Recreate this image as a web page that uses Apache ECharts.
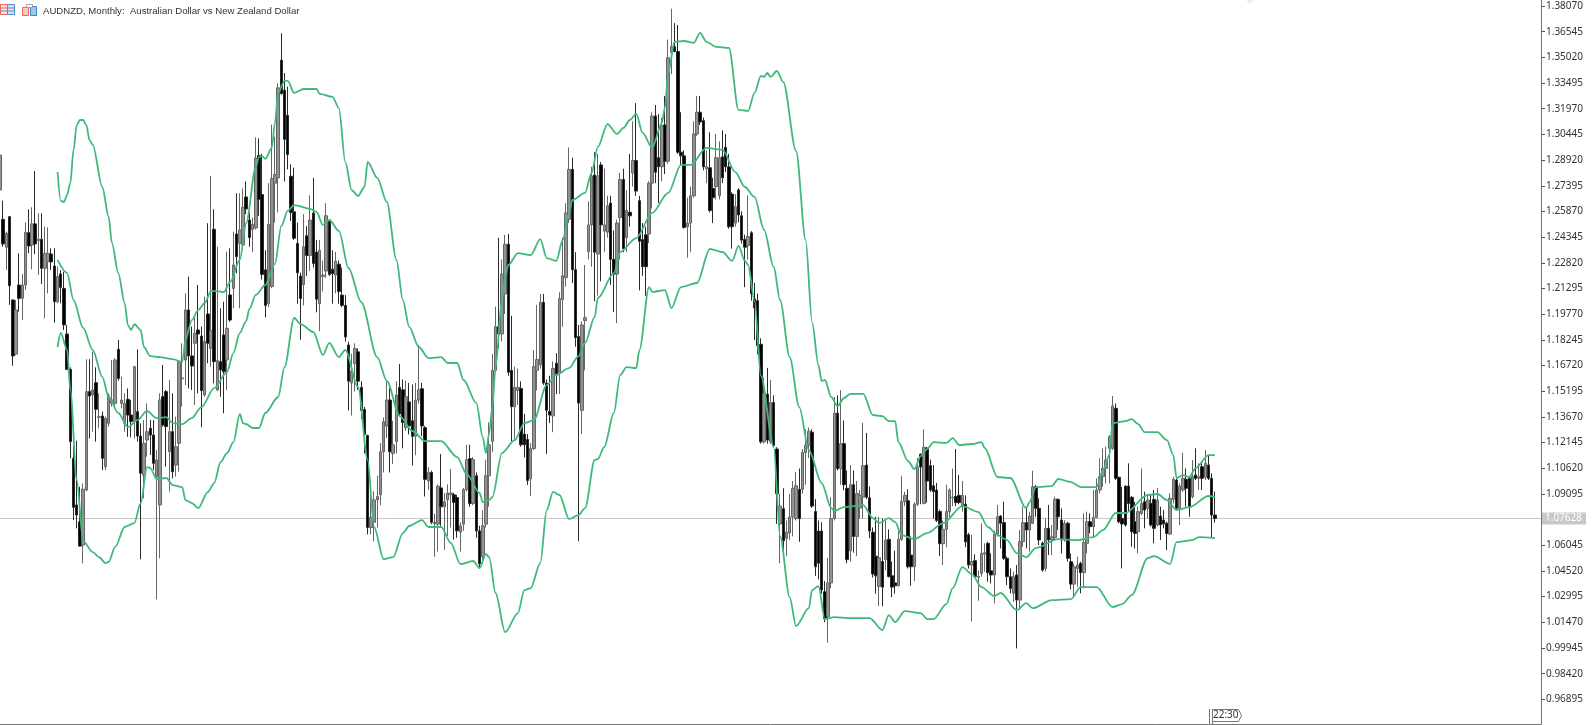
<!DOCTYPE html>
<html><head><meta charset="utf-8">
<style>html,body{margin:0;padding:0;background:#fff;overflow:hidden}#c{width:1592px;height:725px}</style>
<script src="https://cdn.jsdelivr.net/npm/echarts@6/dist/echarts.min.js"></script>
</head><body><div id="c"></div>
<script>
const titleText = 'AUDNZD, Monthly:  Australian Dollar vs New Zealand Dollar';
const tickLabels = ['1.38070','1.36545','1.35020','1.33495','1.31970','1.30445','1.28920','1.27395','1.25870','1.24345','1.22820','1.21295','1.19770','1.18245','1.16720','1.15195','1.13670','1.12145','1.10620','1.09095','1.06045','1.04520','1.02995','1.01470','0.99945','0.98420','0.96895'];
const lastPrice = 1.07628;
const priceUnit = 10000;
// rows: open, close, low, high (in 1/10000)
const candlesA = [[12714,12922,12625,13053],[12540,12394,12378,12651],[12374,12457,12239,12467],[12556,12146,12032,12560],[12061,11729,11671,12065],[11740,12002,11734,12061],[12150,12071,11992,12338],[12071,12150,11942,12216],[12150,12463,12121,12521],[12461,12382,12338,12600],[12388,12513,12243,12612],[12513,12394,12334,12827],[12414,12422,12210,12576],[12422,12249,12156,12576],[12249,12338,11952,12497],[12289,12338,12101,12493],[12334,12287,12239,12368],[12263,12051,11927,12368],[12051,12200,12041,12259],[12216,12136,12041,12239],[12130,11913,11883,12229],[11859,11649,11645,11913],[11649,11220,11121,11661],[11121,10830,10754,11194],[10844,10784,10705,11226],[10744,10600,10596,10952],[10606,10937,10497,10972],[10933,11517,10925,11709],[11517,11491,11239,11709],[11497,11527,11279,11754],[11570,11412,11220,11661],[11364,11368,11299,11507],[11372,11121,11051,11398],[11071,11358,11051,11368],[11329,11493,11309,11507],[11447,11467,11428,11705],[11447,11705,11428,11715],[11768,11596,11582,11824],[11447,11467,11418,11606],[11329,11447,11279,11507],[11471,11378,11249,11536],[11378,11339,11245,11467],[11339,11665,11239,11670],[11398,11253,11220,11768],[11253,11032,10521,11329],[11022,11210,10883,11348],[11230,11279,11131,11447],[11299,11259,11141,11348],[11259,11091,11051,11348],[11012,11111,10283,11170],[10844,11467,10527,11507],[11487,11319,11309,11675],[11517,11309,11071,11527],[11160,11279,10923,11586],[11279,11041,11002,11507],[11081,11190,11012,11368],[11210,11695,11041,11705],[11594,11598,11428,11804],[11705,12002,11556,12101],[12002,11729,11536,12200],[11729,11669,11527,11903],[11804,11863,11438,11972],[11883,11859,11507,12150],[11847,11523,11305,11903],[11497,11814,11487,12081],[11978,11804,11685,12517],[11774,11879,11665,12798],[12481,11695,11566,12600],[11527,11701,11520,12378],[11695,11645,11487,12012],[11853,11635,11388,12051],[11705,11893,11527,12348],[12091,11942,11932,12368],[12130,12269,12012,12467],[12453,12319,12220,12695],[12398,12477,12012,12695],[12388,12612,12378,12724]];
const candlesB = [[12673,12602,12571,12765],[12536,12432,12377,12581],[12479,12510,12346,12550],[12489,12904,12479,13027],[12919,12659,12561,13021],[12687,12213,12182,12929],[12240,12029,11957,12356],[12039,12510,12019,12755],[12141,12782,12131,13103],[12755,12806,12520,13031],[12786,13321,12581,13348],[13485,13287,13280,13645],[13307,13015,12765,13409],[13158,12925,12837,13328],[12796,12581,12530,12867],[12585,12428,12418,12847],[12397,12223,12039,12520],[12203,12070,11825,12223],[12152,12377,12029,12571],[12442,12326,12203,12499],[12326,12536,12233,12683],[12577,12278,12254,12786],[12346,12066,11988,12418],[12039,12356,11876,12418],[12201,12209,12111,12295],[12233,12561,12193,12636],[12530,12213,12203,12540],[12244,12217,12039,12356],[12209,12291,12101,12346],[12274,12111,12039,12295],[12090,12029,12019,12254],[12029,11841,11814,12090],[11794,11579,11405,11814],[11569,11640,11375,11743],[11685,11773,11518,11804],[11753,11579,11528,11773],[11542,11405,11354,11579],[11411,11262,11150,11426],[11256,10710,10669,11262],[10710,10771,10669,10935],[10741,10874,10628,10925],[10874,10894,10710,11017],[10904,11160,10843,11211],[11160,11338,11037,11364],[11313,11467,11242,11579],[11467,11160,11037,11538],[11150,11201,11088,11344],[11221,11497,11150,11579],[11542,11385,11375,11681],[11528,11334,11180,11589],[11303,11487,11283,11583],[11456,11313,11262,11569],[11344,11252,11078,11559],[11252,11467,11139,11569],[11467,11528,11446,11794],[11534,11313,11252,11569],[11303,10996,10894,11313],[10986,11037,10935,11068],[11037,10741,10730,11047],[10733,10741,10536,10792],[10730,10955,10567,10966],[10945,10833,10720,11146],[10833,10863,10577,10915],[10874,10915,10659,10966],[10904,10915,10710,11058],[10904,10859,10638,10915],[10888,10690,10649,10904],[10683,10720,10567,10741],[10730,10935,10690,10945],[10935,11113,10925,11201],[11119,10853,10833,11201],[10853,11113,10843,11129],[11017,10690,10649,11037],[10690,10495,10475,10720],[10536,10720,10495,10812],[10730,11017,10710,11113],[11017,11201,10833,11334]];
const candlesC = [[11222,11643,11157,11740],[11643,11902,11632,12021],[11902,11859,11773,12431],[11859,12215,11816,12302],[12097,12392,11978,12448],[12392,11632,11611,12453],[11643,11427,11222,11967],[11427,11542,11233,11665],[11524,11542,11438,11654],[11535,11201,11190,11578],[11265,11201,11125,11384],[11233,10989,10963,11265],[10999,11179,10898,11211],[11179,11665,11170,11762],[11643,11708,11524,12032],[11676,12047,11654,12097],[12047,11568,11557,12097],[11568,11406,11147,11589],[11399,11378,11330,11611],[11373,11654,11276,11697],[11686,11622,11503,11745],[11632,12069,11503,12107],[12064,12205,11902,12431],[12194,12578,12140,12636],[12539,12837,12518,12967],[12837,12241,12161,12906],[12241,11838,11784,12345],[11844,11449,10628,11913],[11406,11913,11265,11935],[11939,11956,11643,12269],[12349,12507,12302,12647],[12507,12798,12259,12852],[12803,12345,12053,12939],[12334,12798,12086,12928],[12863,12507,12172,12880],[12470,12507,12345,12841],[12464,12621,12431,12680],[12636,12302,12151,12680],[12302,12215,11989,12474],[12215,12518,11924,12539],[12550,12777,12302,12816],[12777,12366,12345,12841],[12431,12593,12345,12712],[12582,12561,12496,12928],[12816,12889,12734,13122],[12889,12708,12680,13230],[12651,12410,12118,12680],[12420,12259,12205,12518],[12448,12259,12086,12496],[12453,12755,12399,12766],[12755,13154,12604,13176],[13154,12820,12755,13219],[12906,12852,12636,13165],[12852,13096,12766,13144],[13101,12885,12809,13273],[12885,13500,12870,13608],[13532,13565,13403,13791],[13565,13537,13532,13705],[13537,12939,12928,13694],[12939,12917,12863,13176],[12917,12492,12485,12949],[12496,12518,12312,12669],[12518,12680,12345,12734],[12680,13047,12669,13122],[13047,13176,13036,13273],[13176,13118,13101,13273],[13126,12852,12831,13144],[12841,12852,12755,12949],[12846,12593,12582,13057],[12723,12669,12518,12787],[12734,12906,12658,13047],[12680,12906,12658,13003],[12911,12787,12755,13068],[12967,12852,12820,13047],[12852,12496,12485,12928],[12690,12496,12366,12701],[12518,12615,12496,12690]];
const candlesD = [[12714,12566,12523,12725],[12561,12417,12396,12587],[12421,12375,12137,12449],[12385,12438,12301,12682],[12460,12099,12057,12470],[12067,12014,11823,12163],[12057,11791,11738,12099],[11798,11219,11208,11834],[11219,11505,11208,11601],[11501,11229,11208,11658],[11219,11452,11208,11586],[11452,11198,11187,11495],[11176,10911,10731,11187],[10731,10837,10498,10911],[10822,10631,10540,10943],[10646,10682,10540,10752],[10678,10773,10636,10911],[10773,10943,10657,10986],[10763,10958,10752,11039],[10937,10763,10625,11060],[10937,11155,10911,11176],[11155,11198,10964,11293],[11198,11282,11123,11304],[11276,10837,10826,11293],[10805,10477,10423,10879],[10689,10498,10402,10752],[10689,10339,10317,10742],[10328,10169,10148,10392],[10180,10381,10025,10530],[10381,10763,10349,10890],[10763,11389,10752,11484],[11389,11060,11049,11495],[11060,11208,10964,11526],[11208,10964,10932,11346],[10943,10519,10498,11049],[10572,10964,10508,11081],[10964,10657,10561,11049],[10657,10911,10540,10986],[10826,10901,10763,10932],[10890,11077,10763,11331],[11081,10890,10879,11272],[10886,10689,10646,10954],[10682,10434,10413,10710],[10540,10423,10317,10773],[10360,10530,10243,10773],[10508,10356,10243,10763],[10519,10636,10455,10752],[10640,10419,10413,10699],[10423,10356,10296,10508],[10381,10364,10317,10572],[10364,10640,10360,10689],[10640,10865,10631,11017],[10865,10901,10837,10922],[10869,10477,10466,10937],[10546,10477,10364,10657],[10477,10848,10392,10860],[10848,11070,10837,11123],[11145,11070,10848,11150],[10852,11187,10848,11293],[11181,10986,10858,11187],[11077,10932,10922,11113],[10958,10922,10763,11081],[10932,10752,10742,10975],[10805,10614,10540,10816],[10614,10699,10487,10752],[10699,10805,10593,10964],[10805,10932,10763,10943],[10886,10890,10837,11060],[10894,10858,10837,11176],[10901,10858,10848,11022],[10837,10901,10805,10986],[10848,10625,10593,10901],[10667,10487,10466,10678],[10487,10508,10152,10667],[10513,10419,10413,10551],[10415,10419,10275,10455]];
const candlesE = [[10438,10556,10418,10735],[10552,10560,10448,10616],[10616,10442,10388,10625],[10453,10428,10378,10556],[10428,10671,10259,10691],[10671,10774,10655,10844],[10778,10735,10586,10784],[10739,10527,10517,10863],[10527,10418,10368,10537],[10418,10348,10319,10467],[10319,10418,10269,10448],[10428,10279,9992,10487],[10279,10626,10220,10695],[10626,10739,10596,10834],[10739,10695,10586,10834],[10695,10778,10566,10804],[10735,10952,10730,11047],[10952,10824,10774,10962],[10824,10636,10606,10883],[10616,10457,10448,10626],[10467,10705,10448,10764],[10705,10636,10546,10844],[10636,10655,10546,10725],[10651,10877,10636,10893],[10877,10774,10695,10883],[10754,10636,10556,10824],[10636,10735,10626,10754],[10735,10527,10507,10744],[10507,10374,10343,10556],[10374,10477,10299,10497],[10467,10487,10358,10537],[10497,10442,10319,10507],[10442,10620,10348,10794],[10616,10744,10556,10804],[10744,10715,10675,10794],[10715,10770,10655,10933],[10770,10933,10764,11002],[10933,11012,10913,11121],[11012,11061,10952,11180],[11061,11111,10972,11190],[11180,11249,10972,11259],[11180,11432,11170,11491],[11418,11002,10992,11447],[11008,10744,10735,11012],[10764,10731,10467,10952],[10956,10725,10715,10960],[10956,10853,10804,11091],[10889,10685,10596,10897],[10744,10675,10586,10863],[10685,10804,10556,10834],[10794,10853,10784,11061],[10863,10814,10705,10923],[10824,10873,10764,10903],[10853,10725,10715,10903],[10877,10705,10616,10933],[10725,10873,10715,10943],[10778,10725,10636,10834],[10754,10731,10705,10814],[10735,10675,10576,10744],[10671,10883,10665,10913],[10877,10996,10853,11012],[10992,10824,10814,11002],[10824,10956,10725,10972],[10933,11002,10923,11154],[10996,10943,10834,11061],[11002,10830,10774,11010],[10893,11012,10883,11111],[11022,11002,10992,11180],[11002,11012,10933,11091],[11071,11002,10933,11101],[11008,11091,10992,11170],[11081,11002,10992,11140],[11002,10784,10651,11032],[10784,10763,10739,10923]];
// Bollinger bands: [bar number, value in 1/10000], as read at the visible bends
const bandUpper = [[18,12821],[19,12650],[20,12643],[21,12685],[22,12756],[23,12952],[24,13100],[25,13130],[26,13130],[27,13100],[28,13011],[29,12982],[32,12732],[34,12554],[35,12400],[37,12221],[39,12043],[40,11912],[41,11883],[42,11918],[44,11883],[45,11782],[47,11728],[50,11722],[54,11710],[57,11693],[58,11823],[60,11942],[62,12002],[64,12043],[66,12114],[68,12114],[70,12108],[72,12168],[75,12299],[77,12518],[80,12851],[81,12910],[82,12916],[83,12899],[85,12964],[86,13112],[87,13291],[89,13362],[90,13362],[92,13291],[95,13314],[99,13314],[100,13285],[104,13267],[106,13201],[108,12881],[110,12714],[112,12679],[114,12732],[115,12881],[118,12786],[121,12643],[124,12299],[126,12061],[128,11901],[131,11782],[134,11716],[138,11722],[140,11687],[143,11687],[145,11586],[149,11449],[151,11247],[152,11152],[153,11271],[154,11425],[155,11663],[157,12061],[158,12198],[159,12269],[162,12340],[166,12328],[169,12423],[171,12310],[174,12293],[176,12417],[178,12578],[179,12655],[183,12697],[185,12815],[187,12970],[190,13106],[193,13047],[195,13083],[197,13130],[199,13166],[201,13053],[204,12964],[207,13112],[208,13207],[209,13409],[211,13594],[214,13599],[217,13588],[219,13647],[221,13594],[224,13564],[228,13558],[231,13190],[234,13184],[236,13291],[238,13392],[239,13386],[240,13409],[241,13386],[243,13421],[245,13356],[249,12946],[252,12417],[254,11930],[256,11675],[257,11580],[258,11586],[260,11485],[262,11431],[264,11479],[266,11503],[270,11503],[273,11378],[276,11372],[278,11342],[280,11342],[281,11217],[284,11105],[286,11057],[288,11134],[290,11176],[292,11217],[296,11212],[298,11241],[300,11200],[304,11206],[307,11217],[308,11182],[312,11010],[316,11004],[321,10825],[322,10861],[324,10950],[329,10956],[331,10998],[335,10980],[338,10950],[343,10950],[345,11051],[347,11140],[348,11330],[352,11342],[354,11354],[356,11324],[358,11277],[362,11277],[365,11229],[367,11140],[368,11004],[370,11021],[372,11010],[374,11063],[378,11140],[380,11140]];
const bandMiddle = [[18,12299],[21,12221],[23,12061],[26,11895],[29,11764],[32,11604],[34,11485],[37,11390],[40,11307],[43,11348],[46,11402],[49,11360],[52,11366],[54,11330],[57,11324],[60,11360],[63,11425],[67,11538],[71,11633],[73,11746],[75,11865],[77,11936],[78,12008],[80,12091],[83,12150],[86,12275],[88,12501],[90,12590],[92,12625],[97,12602],[99,12584],[101,12507],[103,12536],[106,12471],[109,12251],[113,12049],[118,11722],[121,11580],[125,11372],[129,11283],[133,11223],[138,11223],[143,11128],[146,11027],[150,10915],[151,10861],[153,10873],[154,10891],[157,11152],[161,11229],[164,11330],[167,11348],[171,11556],[174,11616],[178,11657],[181,11728],[183,11806],[186,11960],[187,12073],[192,12221],[194,12346],[199,12429],[204,12578],[209,12697],[213,12863],[216,12863],[221,12964],[226,12952],[230,12821],[233,12732],[236,12673],[239,12477],[242,12257],[244,12061],[247,11722],[250,11425],[253,11170],[257,10974],[260,10825],[261,10808],[264,10831],[270,10843],[273,10766],[275,10736],[278,10766],[280,10742],[282,10665],[286,10641],[290,10677],[295,10736],[301,10837],[306,10802],[309,10713],[312,10665],[315,10635],[318,10558],[321,10534],[324,10588],[331,10641],[337,10635],[342,10653],[345,10695],[349,10796],[352,10796],[359,10903],[362,10909],[365,10873],[368,10814],[372,10831],[378,10897],[380,10891]];
const bandLower = [[18,11782],[19,11865],[21,11764],[22,11526],[24,10992],[26,10629],[29,10564],[31,10534],[33,10499],[34,10505],[36,10594],[39,10713],[42,10736],[44,10855],[46,11069],[47,11063],[49,10998],[52,11004],[54,10962],[57,10950],[58,10873],[60,10855],[62,10825],[65,10920],[67,10974],[69,11099],[71,11152],[73,11217],[75,11384],[76,11330],[77,11324],[79,11301],[81,11301],[83,11390],[87,11485],[89,11663],[92,11954],[94,11918],[98,11871],[101,11734],[103,11806],[106,11722],[108,11764],[112,11544],[115,11111],[117,10713],[120,10523],[123,10534],[126,10677],[128,10719],[132,10754],[134,10713],[138,10713],[141,10618],[144,10493],[148,10511],[150,10469],[152,10552],[153,10534],[155,10321],[158,10089],[162,10202],[164,10338],[166,10350],[169,10499],[171,10814],[173,10921],[175,10903],[178,10760],[181,10784],[183,10825],[186,11111],[187,11117],[189,11188],[192,11390],[194,11616],[196,11663],[199,11657],[200,11764],[203,12138],[204,12109],[208,12120],[210,12013],[213,12138],[218,12162],[222,12364],[226,12346],[229,12293],[231,12382],[233,12293],[234,12269],[236,12055],[238,11610],[242,11188],[244,10659],[247,10297],[249,10125],[253,10231],[254,10338],[256,10362],[258,10166],[261,10178],[266,10172],[272,10172],[276,10101],[278,10190],[280,10148],[283,10214],[288,10202],[290,10166],[292,10166],[296,10255],[298,10350],[301,10475],[304,10433],[307,10356],[311,10303],[313,10321],[318,10220],[321,10261],[323,10231],[329,10279],[335,10285],[338,10356],[343,10356],[348,10237],[351,10255],[354,10309],[359,10528],[361,10540],[366,10493],[368,10623],[373,10635],[375,10653],[380,10647]];
const slotCount = 483;

const categories = Array.from({length: slotCount}, (_, i) => String(i));
const candles = [...candlesA, ...candlesB, ...candlesC, ...candlesD, ...candlesE].map(r => r.map(v => v / priceUnit));
const toLine = rows => rows.map(r => [r[0], r[1] / priceUnit]);
const tickValues = tickLabels.map(Number);
const bandStyle = {color: '#3FB97A', width: 1.8, join: 'round'};
const band = (name, rows, extra) => Object.assign({name, type: 'line', data: toLine(rows), showSymbol: false, symbol: 'none', smooth: 0.3, smoothMonotone: 'x', lineStyle: bandStyle, z: 5, silent: true}, extra || {});
const uiFont = '"Noto Sans", "Liberation Sans", sans-serif';
const titleFont = '"Liberation Sans", sans-serif';

const chart = echarts.init(document.getElementById('c'), null, {renderer: 'canvas'});
chart.setOption({
  animation: false,
  backgroundColor: '#ffffff',
  title: {text: titleText, left: 43, top: 6, padding: 0, textStyle: {fontSize: 9.6, fontWeight: 'normal', color: '#333', fontFamily: titleFont}},
  grid: {left: -1.2, width: 1542.2, top: 0, height: 724, containLabel: false},
  xAxis: {type: 'category', data: categories, boundaryGap: false, axisLine: {show: true, onZero: false, lineStyle: {color: '#777', width: 1}}, axisTick: {show: false}, axisLabel: {show: false}, splitLine: {show: false}},
  yAxis: {type: 'value', position: 'right', min: 0.95431, max: 1.38426, scale: true,
    axisLine: {show: true, lineStyle: {color: '#777', width: 1}},
    axisTick: {show: true, length: 4, inside: false, customValues: tickValues, lineStyle: {color: '#555', width: 1}},
    axisLabel: {show: true, margin: 5, padding: [2, 0, 0, 0], customValues: tickValues, color: '#333', fontSize: 10, fontFamily: uiFont, formatter: v => v.toFixed(5)},
    splitLine: {show: false}},
  series: [
    {name: 'AUDNZD', type: 'candlestick', data: candles, barWidth: 3, z: 3, silent: true,
      itemStyle: {color: '#929292', color0: '#000000', borderColor: '#666666', borderColor0: '#2a2a2a', borderWidth: 1}},
    band('BB upper', bandUpper),
    band('BB middle', bandMiddle, {
      markLine: {silent: true, symbol: 'none', animation: false, z: 1, precision: 5,
        lineStyle: {color: '#c8c8c8', width: 1, type: 'solid'},
        label: {show: true, position: 'end', distance: 1, formatter: () => lastPrice.toFixed(5), color: '#fff', backgroundColor: '#c8c8c8', padding: [2, 4, 0, 3], fontSize: 10, fontFamily: uiFont},
        data: [{yAxis: lastPrice}]}}),
    band('BB lower', bandLower)
  ],
  graphic: [
    {type: 'rect', shape: {x: 0.5, y: 4.5, width: 14, height: 10}, style: {fill: '#fbe3df', stroke: '#e8695a', lineWidth: 1}, silent: true},
    {type: 'rect', shape: {x: 7.5, y: 4.5, width: 7, height: 10}, style: {fill: '#cfe4f6', stroke: '#4a90d0', lineWidth: 1}, silent: true},
    {type: 'line', shape: {x1: 1, y1: 8, x2: 14, y2: 8}, style: {stroke: '#e8695a', lineWidth: 1}, silent: true},
    {type: 'line', shape: {x1: 1, y1: 11, x2: 14, y2: 11}, style: {stroke: '#4a90d0', lineWidth: 1}, silent: true},
    {type: 'rect', shape: {x: 22.5, y: 7.5, width: 6, height: 8}, style: {fill: '#f9c9c2', stroke: '#e8695a', lineWidth: 1}, silent: true},
    {type: 'rect', shape: {x: 30.5, y: 6.5, width: 6, height: 9}, style: {fill: '#9cc8ec', stroke: '#3a86cc', lineWidth: 1}, silent: true},
    {type: 'rect', shape: {x: 26.5, y: 4.5, width: 6, height: 3}, style: {fill: '#ffffff', stroke: '#9aa0a6', lineWidth: 1}, silent: true},
    {type: 'polygon', shape: {points: [[1246, 0], [1254, 0], [1250, 4]]}, style: {fill: '#eeeeee'}, silent: true},
    {type: 'polygon', shape: {points: [[1212.5, 709.5], [1238.5, 709.5], [1241.5, 715.5], [1238.5, 721.5], [1212.5, 721.5]]}, style: {fill: '#fff', stroke: '#777', lineWidth: 1}, silent: true},
    {type: 'line', shape: {x1: 1209.5, y1: 709, x2: 1209.5, y2: 724}, style: {stroke: '#777', lineWidth: 1}, silent: true},
    {type: 'line', shape: {x1: 1212.5, y1: 709, x2: 1212.5, y2: 724}, style: {stroke: '#777', lineWidth: 1}, silent: true},
    {type: 'text', left: 1213, top: 710, silent: true, style: {text: '22:30', fill: '#333', fontSize: 10, fontFamily: uiFont}}
  ]
});
</script></body></html>
